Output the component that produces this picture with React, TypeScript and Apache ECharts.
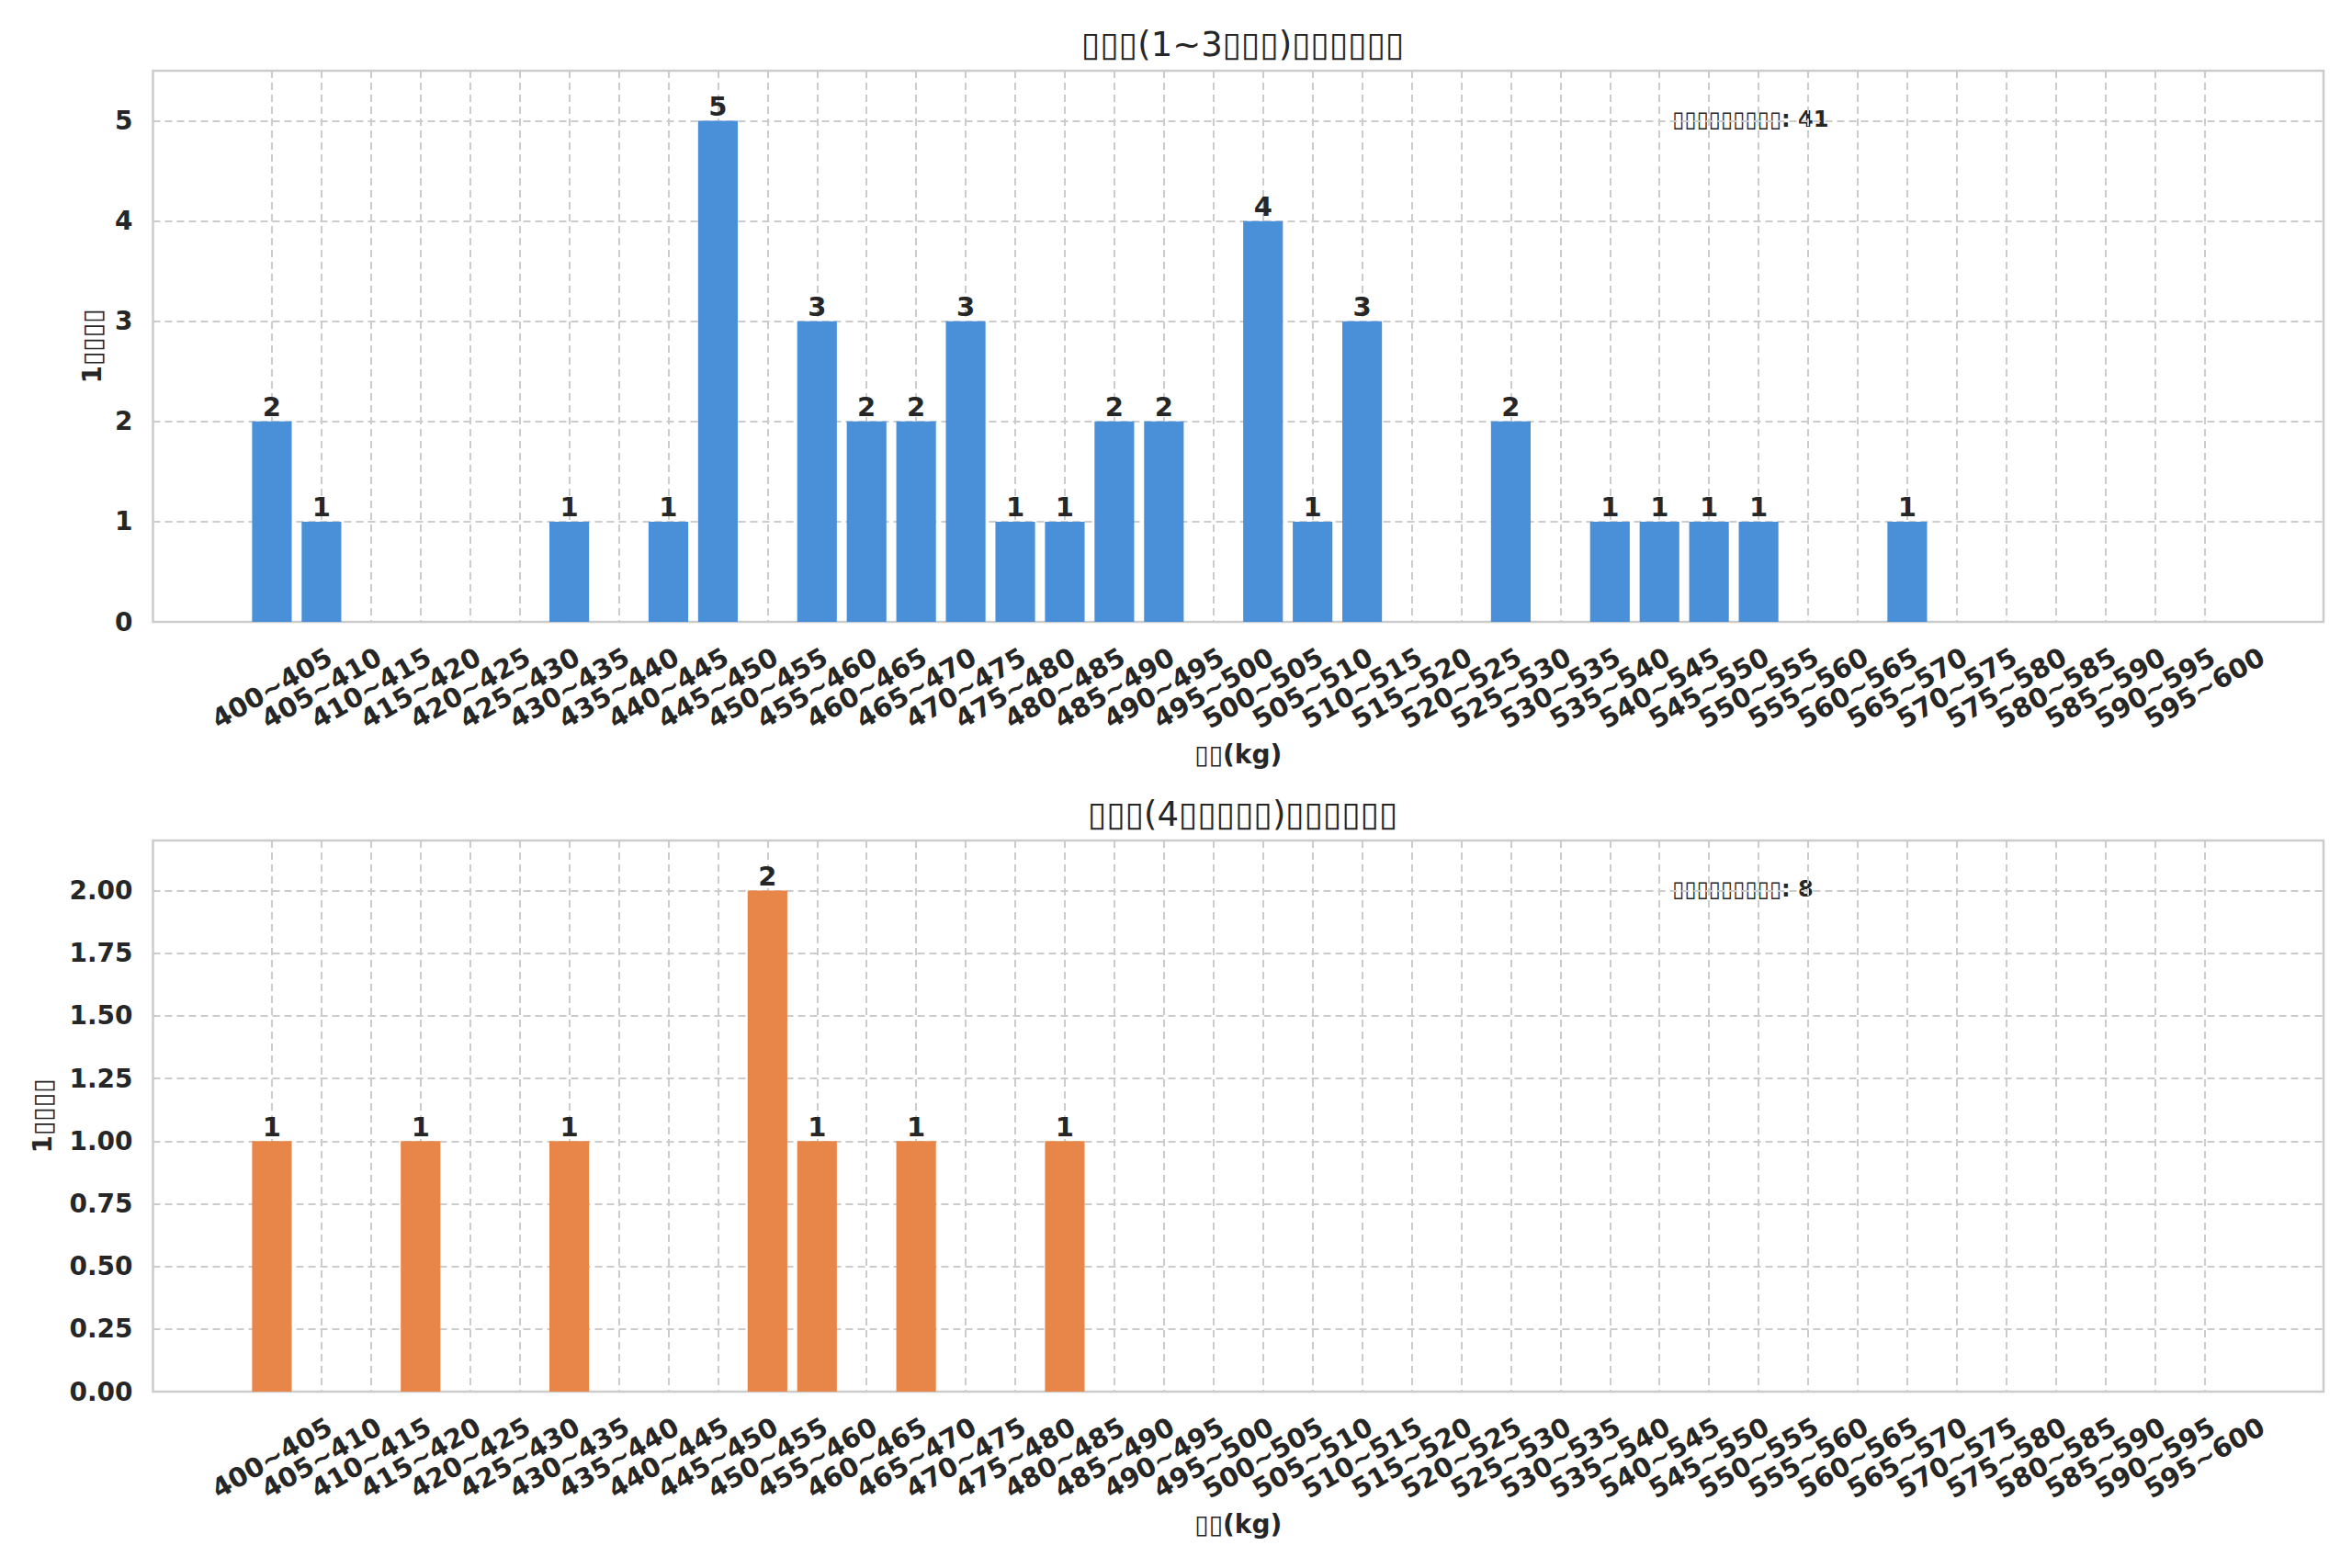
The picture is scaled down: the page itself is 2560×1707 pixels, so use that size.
import { useEffect, useRef } from "react";
import * as echarts from "echarts";

// weight bins, 5 kg each
const weightBins = [
  "400~405", "405~410", "410~415", "415~420", "420~425", "425~430", "430~435", "435~440",
  "440~445", "445~450", "450~455", "455~460", "460~465", "465~470", "470~475", "475~480",
  "480~485", "485~490", "490~495", "495~500", "500~505", "505~510", "510~515", "515~520",
  "520~525", "525~530", "530~535", "535~540", "540~545", "545~550", "550~555", "555~560",
  "560~565", "565~570", "570~575", "575~580", "580~585", "585~590", "590~595", "595~600",
];

const youngCounts = [
  2, 1, 0, 0, 0, 0, 1, 0, 1, 5,
  0, 3, 2, 2, 3, 1, 1, 2, 2, 0,
  4, 1, 3, 0, 0, 2, 0, 1, 1, 1,
  1, 0, 0, 1, 0, 0, 0, 0, 0, 0,
];

const olderCounts = [
  1, 0, 0, 1, 0, 0, 1, 0, 0, 0,
  2, 1, 0, 1, 0, 0, 1, 0, 0, 0,
  0, 0, 0, 0, 0, 0, 0, 0, 0, 0,
  0, 0, 0, 0, 0, 0, 0, 0, 0, 0,
];

const titles = ["▯▯▯(1~3▯▯▯)▯▯▯▯▯▯", "▯▯▯(4▯▯▯▯▯)▯▯▯▯▯▯"];
const notes = ["▯▯▯▯▯▯▯▯▯: 41", "▯▯▯▯▯▯▯▯▯: 8"];
const xName = "▯▯(kg)";
const yName = "1▯▯▯▯";

const TEXT = "#262626";
const GRIDLINE = "#cccccc";
const FONT = "DejaVu Sans";

// figure geometry (px)
const W = 2560;
const H = 1707;
const FRAME_L = 166.5;
const FRAME_R = 2529;
const FRAME_W = FRAME_R - FRAME_L;
const UNIT = FRAME_W / (weightBins.length - 1 + 0.8 + 4);
const BAND_L = FRAME_L + 2.4 * UNIT;
const BAND_W = (weightBins.length - 1) * UNIT;
const PLOT_H = 600;
const TOPS = [77, 915];

export default function App() {
  const ref = useRef<HTMLDivElement>(null);

  useEffect(() => {
    document.body.style.margin = "0";
    if (!ref.current) return;
    const chart = echarts.init(ref.current, undefined, { renderer: "svg" });

    const panels = [
      { counts: youngCounts, color: "#4a90d9", max: 5.5, interval: 1, digits: 0, nameGap: 52 },
      { counts: olderCounts, color: "#e8864a", max: 2.2, interval: 0.25, digits: 2, nameGap: 106 },
    ];

    const grid: any[] = [];
    const xAxis: any[] = [];
    const yAxis: any[] = [];
    const series: any[] = [];

    panels.forEach((p, i) => {
      const top = TOPS[i];
      const frameIdx = i * 2;
      const barIdx = i * 2 + 1;
      // outer frame with the horizontal grid lines
      grid.push({
        left: FRAME_L, top, width: FRAME_W, height: PLOT_H,
        show: true, borderColor: GRIDLINE, borderWidth: 2.5, backgroundColor: "transparent",
      });
      // inner band holding the categories (first..last bin centre)
      grid.push({ left: BAND_L, top, width: BAND_W, height: PLOT_H });

      xAxis.push({ type: "value", gridIndex: frameIdx, show: false, min: 0, max: 1 });
      xAxis.push({
        type: "category",
        gridIndex: barIdx,
        data: weightBins,
        boundaryGap: false,
        axisLine: { show: false },
        axisTick: { show: false, interval: 0 },
        splitLine: { show: true, interval: 0, lineStyle: { color: GRIDLINE, width: 2, type: [8, 5] } },
        axisLabel: {
          interval: 0, rotate: 30, align: "center", verticalAlign: "middle", margin: 72,
          fontFamily: FONT, fontWeight: "bold", fontSize: 29, color: TEXT,
        },
        name: xName,
        nameLocation: "middle",
        nameGap: 130,
        nameTextStyle: { fontFamily: FONT, fontWeight: "bold", fontSize: 28, color: TEXT },
      });

      yAxis.push({
        type: "value",
        gridIndex: frameIdx,
        min: 0,
        max: p.max,
        interval: p.interval,
        axisLine: { show: false },
        axisTick: { show: false },
        splitLine: { show: true, lineStyle: { color: GRIDLINE, width: 2, type: [8, 5] } },
        axisLabel: {
          showMaxLabel: false, margin: 22,
          formatter: (v: number) => v.toFixed(p.digits),
          fontFamily: FONT, fontWeight: "bold", fontSize: 28, color: TEXT,
        },
        name: yName,
        nameLocation: "middle",
        nameGap: p.nameGap,
        nameTextStyle: { fontFamily: FONT, fontWeight: "bold", fontSize: 28, color: TEXT },
      });
      yAxis.push({ type: "value", gridIndex: barIdx, show: false, min: 0, max: p.max });

      series.push({
        type: "bar",
        xAxisIndex: barIdx,
        yAxisIndex: barIdx,
        data: p.counts,
        barWidth: "80%",
        clip: false,
        itemStyle: { color: p.color },
        label: {
          show: true, position: "top", distance: 1,
          formatter: (d: any) => (d.value > 0 ? String(d.value) : ""),
          fontFamily: FONT, fontWeight: "bold", fontSize: 29, color: TEXT,
        },
      });
    });

    chart.setOption({
      animation: false,
      backgroundColor: "#ffffff",
      title: titles.map((t, i) => ({
        text: t,
        left: FRAME_L + FRAME_W / 2,
        top: TOPS[i] - 52,
        textAlign: "center",
        textStyle: { fontFamily: FONT, fontWeight: "normal", fontSize: 37, color: TEXT },
      })),
      grid,
      xAxis,
      yAxis,
      series,
      graphic: notes.map((n, i) => ({
        type: "text",
        left: FRAME_L + 0.7 * FRAME_W,
        top: TOPS[i] + 41,
        style: { text: n, fontFamily: FONT, fontWeight: "bold", fontSize: 24, fill: TEXT },
      })),
    });

    return () => chart.dispose();
  }, []);

  return <div ref={ref} style={{ width: W, height: H }} />;
}
